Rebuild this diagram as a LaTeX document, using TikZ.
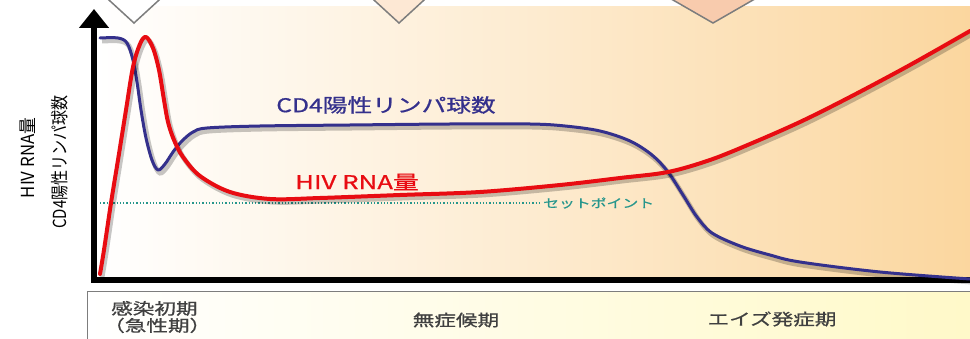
\documentclass[tikz,border=0pt]{standalone}
\usepackage{fontspec}
\setmainfont{Noto Sans CJK JP}
\newfontfamily\medjp[FakeBold=0.7]{Noto Sans CJK JP}
\usepackage{tikz}
\usetikzlibrary{arrows.meta}

\definecolor{cdblue}{RGB}{52,48,140}
\definecolor{rnared}{RGB}{232,12,18}
\definecolor{setteal}{RGB}{38,150,140}
\definecolor{bgmid}{RGB}{253,234,205}
\definecolor{bgorange}{RGB}{251,214,158}
\definecolor{bandyellow}{RGB}{255,249,200}
\definecolor{gemgray}{RGB}{125,125,125}
\definecolor{gemlight}{RGB}{253,232,212}
\definecolor{gempeach}{RGB}{248,203,173}

% stretch text sideways like the source picture
\newcommand{\wide}[2][1.35]{\scalebox{#1}[1]{#2}}

\tikzset{
  curve/.style={line width=#1, line cap=round, line join=round,
    preaction={draw=black, opacity=0.22, line width=5pt,
      transform canvas={shift={(2pt,-3pt)}}}},
  phase/.style={font=\fontsize{16}{17}\selectfont\medjp, text=black!75},
  gem/.style={draw=gemgray, line width=1.5pt},
  ylab/.style={rotate=90, font=\fontsize{15}{17}\selectfont},
}

\begin{document}
\begin{tikzpicture}[x=1pt,y=-1pt]
  \useasboundingbox (0,0) rectangle (970,339);

  % backgrounds
  \shade[left color=white, right color=bgmid] (97,7) rectangle (560,280);
  \shade[left color=bgmid, right color=bgorange] (559.5,7) rectangle (975,280);
  \shade[left color=white, right color=bandyellow, draw=gemgray, line width=1pt]
    (87,292) rectangle (980,345);

  % diamonds at the top edge
  \foreach \cx/\sx/\col in {134/1.09/white, 399/1.09/gemlight, 713/1.74/gempeach}
    \filldraw[gem, fill=\col] ({\cx-\sx*30},-7) -- (\cx,23) -- ({\cx+\sx*30},-7);

  % axes
  \coordinate (origin) at (94,280);
  \coordinate (ytip) at (94,9);
  \coordinate (xend) at (975,280);
  \draw[line width=6pt, -{Triangle[width=29pt,length=19pt]}] (origin) -- (ytip);
  \draw[line width=6pt] (91,280) -- (xend);

  % set point
  \coordinate (setstart) at (100,203);
  \node[text=setteal, font=\fontsize{12}{14}\selectfont\medjp, anchor=west, inner sep=1pt]
    (setlab) at (542,203) {\wide[1.32]{セットポイント}};
  \draw[setteal, dotted, line width=1.3pt] (setstart) -- (setlab.west);

  % CD4 count
  \draw[cdblue, curve=3pt] plot[smooth, tension=0.55] coordinates {
    (100,38) (118,38) (127,43) (133,60) (137,82) (141,110) (146,138)
    (152,160) (158,170) (165,164) (173,152) (182,141) (193,132) (207,128)
    (260,126) (350,125) (450,124) (530,124) (565,126) (600,131) (630,141)
    (652,155) (668,172) (683,195) (697,217) (712,233) (740,246) (770,255)
    (800,262) (880,272) (970,279)};

  % viral load
  \draw[rnared, curve=4pt] plot[smooth, tension=0.55] coordinates {
    (100,274) (104,250) (111,203) (118,160) (126,110) (133,67) (140,44)
    (146,37) (153,48) (159,70) (164,100) (168,122) (174,140) (183,157)
    (200,176) (230,192) (270,199) (320,198) (400,195) (480,192) (560,185)
    (620,178) (668,172) (710,160) (750,144) (800,122) (850,97) (910,65)
    (970,31)};

  % curve labels
  \node[text=cdblue, font=\fontsize{19}{21}\selectfont\medjp] (cdlab) at (386,105)
    {\wide[1.3]{CD4陽性リンパ球数}};
  \node[text=rnared, font=\fontsize{19}{21}\selectfont\medjp] (rnalab) at (357,182)
    {\wide[1.36]{HIV RNA量}};

  % axis label
  \node[ylab] (ylaba) at (28,158) {\scalebox{1.12}[1.2]{HIV RNA量}};
  \node[ylab] (ylabb) at (60,162) {\scalebox{1}[1.2]{CD4陽性リンパ球数}};

  % phases
  \node[phase, align=left, anchor=west, inner sep=0pt] (acute) at (111,317)
    {\wide{感染初期}\\\hspace*{-0.5em}\wide{（急性期）}};
  \node[phase] (latent) at (456,320) {\wide{無症候期}};
  \node[phase] (aids) at (772,319) {\wide{エイズ発症期}};
\end{tikzpicture}
\end{document}
